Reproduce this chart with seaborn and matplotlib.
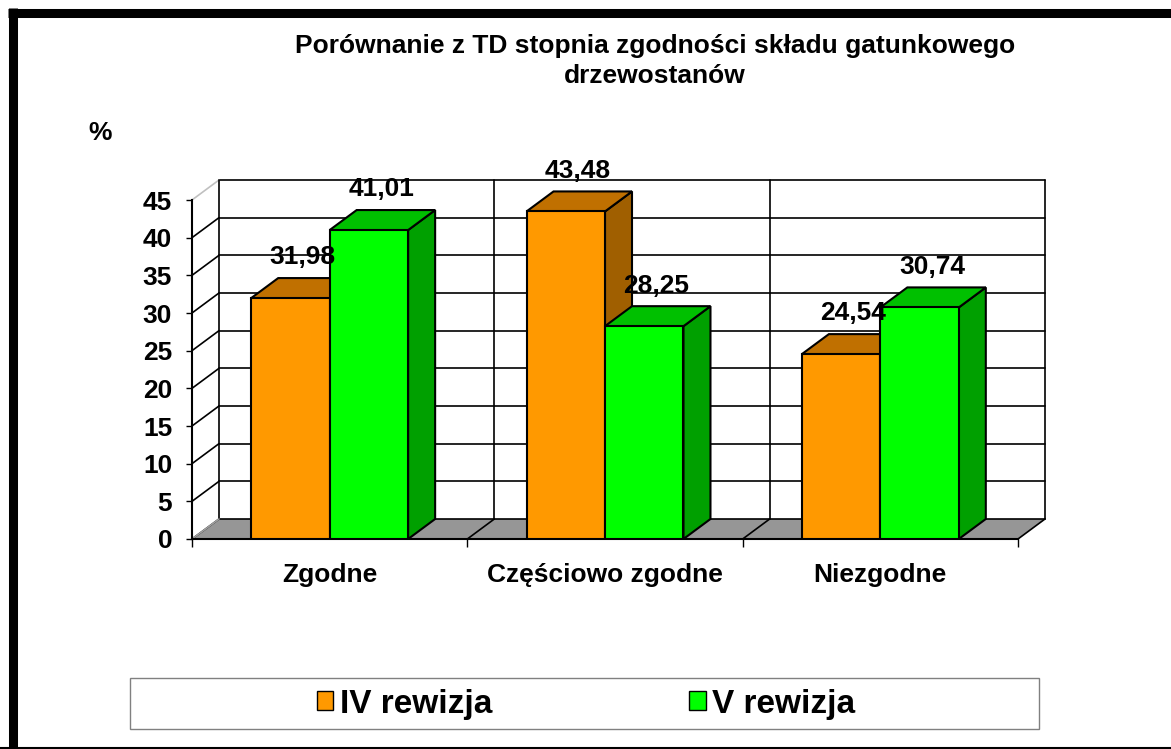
import pandas as pd
import matplotlib.pyplot as plt
import seaborn as sns
from matplotlib.patches import Polygon, Patch, Rectangle
from matplotlib.lines import Line2D

# data
kategorie = ['Zgodne', 'Częściowo zgodne', 'Niezgodne']
serie = ['IV rewizja', 'V rewizja']
iv_rewizja = [31.98, 43.48, 24.54]
v_rewizja = [41.01, 28.25, 30.74]
etykiety = [['31,98', '43,48', '24,54'], ['41,01', '28,25', '30,74']]
y_ticks = [0, 5, 10, 15, 20, 25, 30, 35, 40, 45]

df = pd.DataFrame({
    'kategoria': kategorie * 2,
    'seria': [serie[0]] * 3 + [serie[1]] * 3,
    'wartosc': iv_rewizja + v_rewizja,
})

front = ['#FF9900', '#00FF00']
top = ['#C07000', '#00C000']
side = ['#A05F00', '#00A000']

sns.set_style('white')
plt.rcParams['font.family'] = ['Liberation Sans', 'DejaVu Sans']
plt.rcParams['font.weight'] = 'bold'
plt.rcParams['text.color'] = 'black'
plt.rcParams['xtick.color'] = 'black'
plt.rcParams['ytick.color'] = 'black'

W, H = 1171, 749
fig = plt.figure(figsize=(W / 100, H / 100), dpi=100)
ax = fig.add_axes([192 / W, (H - 539) / H, 826 / W, 339 / H])

sns.barplot(data=df, x='kategoria', y='wartosc', hue='seria', palette=front,
            saturation=1, width=0.57, gap=0, edgecolor='black', linewidth=1.5,
            legend=False, ax=ax)
bars = list(ax.patches)

ax.set_xlim(-0.5, 2.5)
ax.set_ylim(0, 45)

# 3D offsets (data units)
dx = 27 / 275.3
dy = 20 / 7.53

# floor
floor = Polygon([(-0.5, 0), (2.5, 0), (2.5 + dx, dy), (-0.5 + dx, dy)],
                closed=True, facecolor='#969696', edgecolor='none',
                zorder=0.5, clip_on=False)
ax.add_patch(floor)

# back wall grid
for v in y_ticks:
    ax.plot([-0.5 + dx, 2.5 + dx], [v + dy, v + dy], color='black', lw=1.2,
            zorder=1, clip_on=False)
    col = '#c0c0c0' if v == 45 else 'black'
    ax.plot([-0.5, -0.5 + dx], [v, v + dy], color=col, lw=1.2, zorder=1,
            clip_on=False)
for b in [-0.5, 0.5, 1.5, 2.5]:
    ax.plot([b + dx, b + dx], [dy, 45 + dy], color='black', lw=1.2, zorder=1,
            clip_on=False)
    col = '#a0a0a0' if b == -0.5 else 'black'
    ax.plot([b, b + dx], [0, dy], color=col, lw=1.2, zorder=1.2, clip_on=False)

# 3D bar faces
for i, bar in enumerate(bars):
    s = i // 3
    x0 = bar.get_x()
    x1 = x0 + bar.get_width()
    h = bar.get_height()
    z = 3 + s
    bar.set_zorder(z + 0.2)
    ax.add_patch(Polygon([(x1, 0), (x1 + dx, dy), (x1 + dx, h + dy), (x1, h)],
                         closed=True, facecolor=side[s], edgecolor='black',
                         lw=1.5, zorder=z, clip_on=False))
    ax.add_patch(Polygon([(x0, h), (x1, h), (x1 + dx, h + dy), (x0 + dx, h + dy)],
                         closed=True, facecolor=top[s], edgecolor='black',
                         lw=1.5, zorder=z + 0.1, clip_on=False))
    ax.text((x0 + x1) / 2 + 0.045, h + 5.4, etykiety[s][i % 3], ha='center',
            va='center', fontsize=19, fontweight='bold', zorder=10)

# axes
for sp in ['top', 'right']:
    ax.spines[sp].set_visible(False)
for sp in ['left', 'bottom']:
    ax.spines[sp].set_color('black')
    ax.spines[sp].set_linewidth(1.5)
    ax.spines[sp].set_zorder(2)
ax.set_yticks(y_ticks)
ax.set_yticklabels([str(t) for t in y_ticks], fontsize=19, fontweight='bold')
ax.tick_params(axis='y', direction='out', length=4.3, width=1, pad=10,
               left=True, color='black')
ax.set_xticks([-0.5, 0.5, 1.5, 2.5])
ax.set_xticklabels([])
ax.set_xticks([0, 1, 2], minor=True)
ax.set_xticklabels(kategorie, minor=True, fontsize=19, fontweight='bold')
ax.tick_params(axis='x', which='major', direction='out', length=6, width=1,
               bottom=True, color='black')
ax.tick_params(axis='x', which='minor', length=0, pad=17)
ax.set_xlabel('')
ax.set_ylabel('')
ax.patch.set_alpha(0)

fig.text(655 / W, 1 - 61 / H,
         'Porównanie z TD stopnia zgodności składu gatunkowego\ndrzewostanów',
         ha='center', va='center', fontsize=19, fontweight='bold',
         multialignment='center', linespacing=1.3)
fig.text(100 / W, 1 - 133 / H, '%', ha='center', va='center', fontsize=19,
         fontweight='bold')

# legend
fig.patches.append(Rectangle((130 / W, (H - 729) / H), 909 / W, 51 / H,
                             transform=fig.transFigure, fill=False,
                             edgecolor='#808080', lw=1))
handles = [Patch(facecolor=front[0], edgecolor='black'),
           Patch(facecolor=front[1], edgecolor='black')]
fig.legend(handles, serie, loc='center', bbox_to_anchor=(586 / W, 1 - 704 / H),
           ncol=2, frameon=False, prop={'size': 24, 'weight': 'bold'},
           handlelength=0.5, handleheight=0.5, handletextpad=0.2,
           columnspacing=5.9)

# chart frame
fig.lines.append(Line2D([12.5 / W, 12.5 / W], [0, 1 - 8 / H], transform=fig.transFigure,
                        color='black', lw=6.5, solid_capstyle='butt'))
fig.lines.append(Line2D([8 / W, 1], [1 - 12.5 / H, 1 - 12.5 / H], transform=fig.transFigure,
                        color='black', lw=6.5, solid_capstyle='butt'))
fig.lines.append(Line2D([0, 1], [1.5 / H, 1.5 / H], transform=fig.transFigure,
                        color='black', lw=1.5, solid_capstyle='butt'))

fig.savefig('out.png', dpi=100)
